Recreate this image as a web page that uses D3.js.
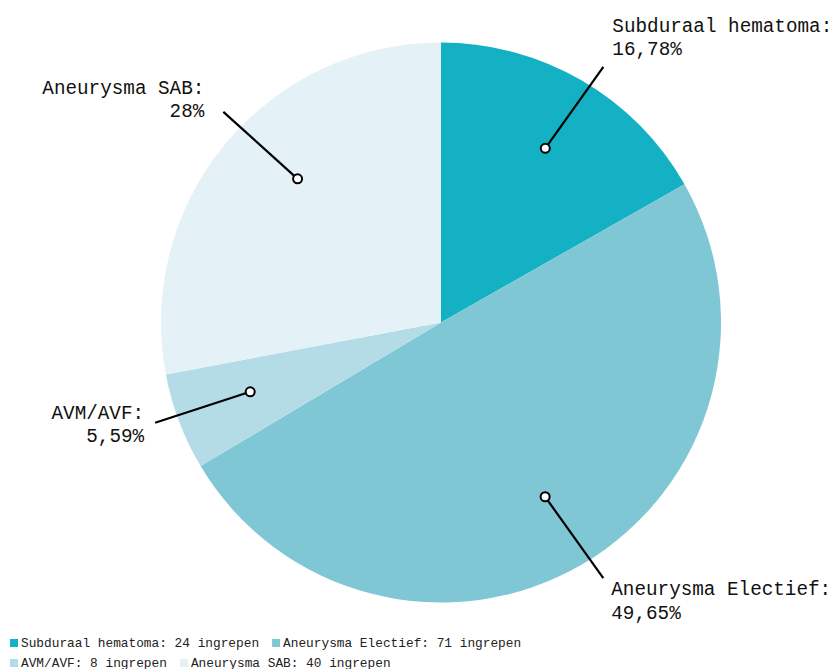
<!DOCTYPE html>
<html><head><meta charset="utf-8">
<script src="https://cdn.jsdelivr.net/npm/d3@7"></script>
<style>
html,body{margin:0;padding:0;background:#fff;}
svg{display:block;}
</style></head>
<body>
<svg id="chart" width="838" height="669"></svg>
<script>
const categories = ["Subduraal hematoma", "Aneurysma Electief", "AVM/AVF", "Aneurysma SAB"];
const counts = [24, 71, 8, 40];
const percentLabels = ["16,78%", "49,65%", "5,59%", "28%"];
const colors = ["#13b1c3", "#80c7d5", "#b3dce7", "#e4f1f7"];

// layout (not data)
const W = 838, H = 669;
const cx = 441, cy = 322.5, R = 280;
const dotR = 203, leaderLen = 100;
const dotTweak = [0.7, -0.65, 0.8, 5.4];                 // degrees added to mid-angle for dot
const leaderTweak = [5.3, -5.35, 2.8, 2.4];              // degrees added to mid-angle for leader direction
const textOffset = [[9, -35], [8, 17], [-11, -4], [-19, -18]]; // dx, first-baseline dy
const lineH = 23.5;
const FONT = "'Liberation Mono', 'Courier New', monospace";

const svg = d3.select("#chart");
const g = svg.append("g").attr("transform", `translate(${cx},${cy})`);

const pie = d3.pie().sort(null).value(d => d)(counts);
const arc = d3.arc().innerRadius(0).outerRadius(R);

g.selectAll("path.slice").data(pie).join("path")
  .attr("class", "slice")
  .attr("d", arc)
  .attr("fill", (d, i) => colors[i]);

const deg = Math.PI / 180;
pie.forEach((d, i) => {
  const mid = (d.startAngle + d.endAngle) / 2;
  const a1 = mid + dotTweak[i] * deg;
  const px = Math.sin(a1) * dotR, py = -Math.cos(a1) * dotR;
  const a2 = mid + leaderTweak[i] * deg;
  const ex = px + Math.sin(a2) * leaderLen, ey = py - Math.cos(a2) * leaderLen;
  g.append("line")
    .attr("x1", px).attr("y1", py).attr("x2", ex).attr("y2", ey)
    .attr("stroke", "#000").attr("stroke-width", 2.2);
  g.append("circle")
    .attr("cx", px).attr("cy", py).attr("r", 4.5)
    .attr("fill", "#fff").attr("stroke", "#000").attr("stroke-width", 2);
  const right = ex > 0;
  const tx = ex + textOffset[i][0];
  const t = g.append("text")
    .attr("x", tx).attr("y", ey + textOffset[i][1])
    .attr("text-anchor", right ? "start" : "end")
    .attr("font-family", FONT)
    .attr("font-size", 19.3)
    .attr("fill", "#111");
  t.append("tspan").attr("x", tx).text(categories[i] + ":");
  t.append("tspan").attr("x", tx).attr("dy", lineH).text(percentLabels[i]);
});

// legend
const legend = svg.append("g");
const rows = [[0, 1], [2, 3]];
const legFs = 12.8;
rows.forEach((row, r) => {
  let x = 10;
  const y = 647 + r * 20;
  row.forEach(i => {
    legend.append("rect").attr("x", x).attr("y", y - 8).attr("width", 8).attr("height", 8)
      .attr("fill", colors[i]);
    const label = `${categories[i]}: ${counts[i]} ingrepen`;
    legend.append("text")
      .attr("x", x + 11).attr("y", y)
      .attr("font-family", FONT)
      .attr("font-size", legFs)
      .attr("fill", "#222")
      .text(label);
    x = x + 11 + label.length * 0.6 * legFs + 13;
  });
});
</script>
</body></html>
